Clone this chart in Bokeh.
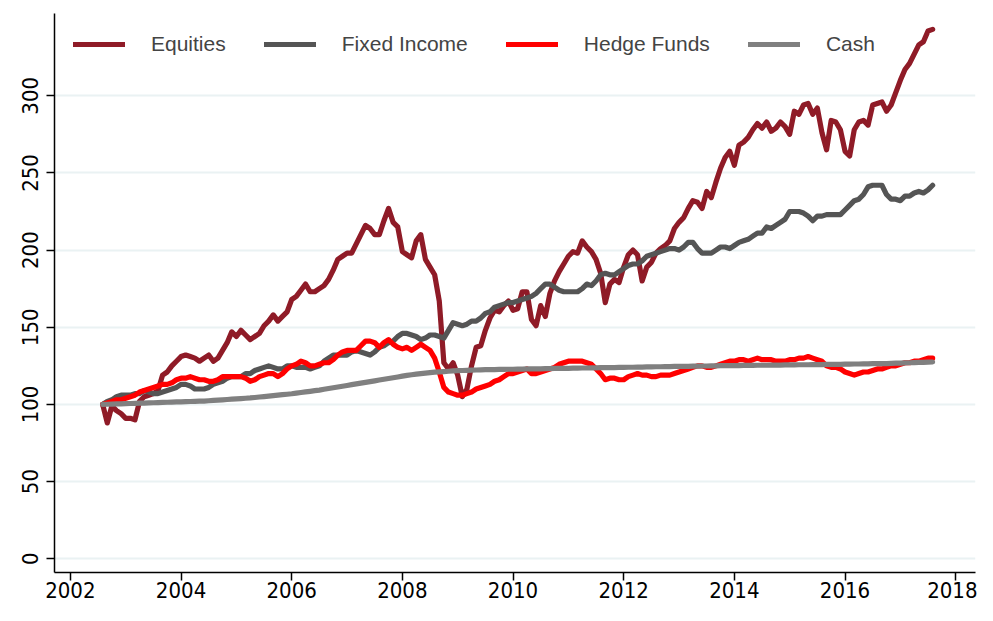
from bokeh.plotting import figure
from bokeh.models import Range1d, Legend, LegendItem, FixedTicker
from bokeh.embed import file_html
from bokeh.resources import INLINE

# Monthly index values, Aug 2002 .. Aug 2017
start_year = 2002
start_month = 8
equities = [
    100, 88, 99, 96, 94, 91, 91, 90, 102, 105,
    106, 107, 109, 119, 121, 125, 128, 131, 132, 131,
    130, 128, 130, 132, 128, 130, 135, 140, 147, 144,
    148, 145, 142, 144, 146, 151, 154, 158, 154, 157,
    160, 168, 170, 174, 178, 173, 173, 175, 177, 181,
    187, 194, 196, 198, 198, 204, 210, 216, 214, 210,
    210, 219, 227, 218, 215, 199, 197, 195, 206, 210,
    194, 189, 184, 167, 127, 123, 127, 119, 105, 110,
    125, 137, 138, 148, 156, 161, 160, 164, 167, 161,
    162, 173, 173, 155, 151, 164, 157, 172, 180, 186,
    191, 196, 199, 198, 206, 202, 199, 194, 185, 166,
    178, 181, 179, 189, 197, 200, 197, 180, 189, 192,
    198, 201, 203, 206, 214, 218, 221, 227, 232, 231,
    227, 238, 234, 244, 253, 260, 264, 255, 268, 270,
    273, 278, 282, 279, 283, 277, 279, 283, 280, 275,
    290, 288, 294, 295, 288, 292, 276, 265, 284, 283,
    278, 264, 261, 278, 283, 284, 281, 294, 295, 296,
    290, 294, 302, 310, 317, 321, 327, 333, 335, 342, 343,
]
fixed_income = [
    100, 102, 103, 105, 106, 106, 106, 107, 107, 109,
    108, 107, 107, 108, 109, 110, 111, 113, 113, 112,
    110, 110, 110, 111, 113, 114, 115, 117, 118, 118,
    118, 120, 120, 122, 123, 124, 125, 124, 123, 123,
    125, 125, 124, 124, 124, 123, 124, 125, 128, 130,
    132, 132, 132, 132, 134, 135, 134, 133, 132, 134,
    137, 138, 140, 141, 144, 146, 146, 145, 144, 142,
    143, 145, 145, 144, 143, 148, 153, 152, 151, 152,
    154, 154, 156, 159, 160, 163, 164, 165, 166, 166,
    167, 168, 169, 170, 172, 175, 178, 178, 176, 174,
    173, 173, 173, 173, 175, 178, 177, 180, 184, 185,
    184, 184, 186, 188, 190, 191, 191, 193, 196, 197,
    198, 199, 200, 201, 201, 200, 202, 205, 205, 201,
    198, 198, 198, 200, 202, 202, 201, 203, 205, 206,
    207, 209, 211, 211, 215, 214, 216, 218, 220, 225,
    225, 225, 224, 222, 219, 222, 222, 223, 223, 223,
    223, 226, 229, 232, 233, 236, 241, 242, 242, 242,
    236, 233, 233, 232, 235, 235, 237, 238, 237, 239, 242,
]
hedge_funds = [
    100, 101, 102, 103, 103, 104, 105, 106, 108, 109,
    110, 111, 112, 113, 113, 114, 116, 117, 117, 118,
    117, 116, 116, 115, 115, 116, 118, 118, 118, 118,
    118, 117, 115, 116, 118, 119, 120, 120, 118, 120,
    123, 125, 126, 128, 127, 125, 125, 126, 127, 127,
    129, 132, 134, 135, 135, 135, 138, 141, 141, 140,
    137, 140, 142, 139, 137, 136, 137, 135, 137, 139,
    137, 135, 130, 121, 111, 108, 107, 106, 106, 107,
    108, 110, 111, 112, 113, 115, 116, 118, 120, 120,
    121, 122, 123, 120, 120, 121, 122, 123, 124, 126,
    127, 128, 128, 128, 128, 127, 126, 123, 120, 116,
    117, 117, 116, 116, 118, 119, 120, 119, 119, 118,
    118, 119, 119, 119, 120, 121, 122, 123, 124, 125,
    125, 124, 124, 125, 126, 127, 128, 128, 129, 129,
    128, 129, 130, 129, 129, 129, 128, 128, 128, 129,
    129, 130, 130, 131, 130, 129, 128, 125, 124, 124,
    123, 121, 120, 119, 120, 121, 121, 122, 123, 123,
    124, 125, 125, 126, 127, 127, 128, 128, 129, 130, 130,
]
cash = [
    100.0, 100.1, 100.2, 100.3, 100.4,
    100.5, 100.6, 100.7, 100.8, 100.9, 101.0, 101.1, 101.2, 101.3, 101.4, 101.5, 101.6,
    101.7, 101.8, 101.9, 102.0, 102.1, 102.2, 102.4, 102.6, 102.8, 103.0, 103.2, 103.4,
    103.6, 103.8, 104.0, 104.2, 104.5, 104.8, 105.1, 105.4, 105.7, 106.0, 106.3, 106.6,
    106.9, 107.3, 107.7, 108.1, 108.5, 108.9, 109.3, 109.8, 110.3, 110.8, 111.3, 111.8,
    112.3, 112.8, 113.3, 113.8, 114.3, 114.8, 115.3, 115.8, 116.3, 116.8, 117.3, 117.8,
    118.3, 118.8, 119.2, 119.6, 120.0, 120.3, 120.6, 120.9, 121.1, 121.3, 121.5, 121.7,
    121.9, 122.0, 122.1, 122.2, 122.3, 122.4, 122.5, 122.6, 122.6, 122.7, 122.7, 122.8,
    122.8, 122.9, 122.9, 123.0, 123.0, 123.1, 123.1, 123.2, 123.2, 123.3, 123.3, 123.4,
    123.4, 123.5, 123.5, 123.6, 123.6, 123.7, 123.7, 123.8, 123.8, 123.9, 123.9, 124.0,
    124.0, 124.1, 124.1, 124.2, 124.2, 124.3, 124.3, 124.4, 124.4, 124.5, 124.5, 124.6,
    124.6, 124.7, 124.7, 124.8, 124.8, 124.9, 124.9, 125.0, 125.0, 125.1, 125.1, 125.2,
    125.2, 125.2, 125.3, 125.3, 125.3, 125.4, 125.4, 125.4, 125.5, 125.5, 125.5, 125.6,
    125.6, 125.6, 125.7, 125.7, 125.7, 125.8, 125.8, 125.8, 125.9, 125.9, 126.0, 126.0,
    126.1, 126.1, 126.2, 126.2, 126.3, 126.3, 126.4, 126.4, 126.5, 126.5, 126.6, 126.7,
    126.8, 126.9, 127.0, 127.1, 127.2, 127.3, 127.4, 127.5,
]
series_names = ["Equities", "Fixed Income", "Hedge Funds", "Cash"]
series_colors = ["#8f1b27", "#555555", "#ff0000", "#808080"]
x_ticks = [2002, 2004, 2006, 2008, 2010, 2012, 2014, 2016, 2018]
y_ticks = [0, 50, 100, 150, 200, 250, 300]

def month_axis(n):
    return [start_year + (start_month - 1 + i) / 12.0 for i in range(n)]

FONT = "Liberation Sans"
TICK_FONT = "DejaVu Sans Condensed"

p = figure(width=977, height=605, output_backend="svg", toolbar_location=None,
           x_range=Range1d(2001.713, 2018.358), y_range=Range1d(-8.9, 353.3),
           min_border_left=54, min_border_right=2, min_border_top=13, min_border_bottom=33)
p.outline_line_color = None
p.background_fill_color = "white"
p.border_fill_color = "white"

p.xgrid.visible = False
p.ygrid.grid_line_color = "#eaf2f3"
p.ygrid.grid_line_width = 2
p.ygrid.ticker = FixedTicker(ticks=y_ticks)

for ax in (p.xaxis[0], p.yaxis[0]):
    ax.axis_line_color = "black"
    ax.axis_line_width = 1.5
    ax.major_tick_line_color = "black"
    ax.major_tick_line_width = 1.5
    ax.major_tick_in = 0
    ax.major_tick_out = 8
    ax.minor_tick_line_color = None
    ax.major_label_text_font = TICK_FONT
    ax.major_label_text_font_size = "22px"
    ax.major_label_text_color = "black"

p.xaxis.ticker = FixedTicker(ticks=x_ticks)
p.xaxis.major_label_standoff = 1
p.yaxis.ticker = FixedTicker(ticks=y_ticks)
p.yaxis.major_label_orientation = "vertical"
p.yaxis.major_label_standoff = 8

renderers = []
for vals, color in zip([equities, fixed_income, hedge_funds, cash], series_colors):
    r = p.line(month_axis(len(vals)), vals, line_color=color, line_width=5.2,
               line_join="round", line_cap="round")
    renderers.append(r)

legend = Legend(items=[LegendItem(label=n, renderers=[r]) for n, r in zip(series_names, renderers)],
                orientation="horizontal", location="top_left",
                border_line_color=None, background_fill_alpha=0,
                glyph_width=52, glyph_height=20, label_standoff=26, spacing=38,
                label_text_font=FONT, label_text_font_size="21px",
                margin=19, padding=10)
p.add_layout(legend, "center")

open("out.html", "w").write(file_html(p, INLINE))
